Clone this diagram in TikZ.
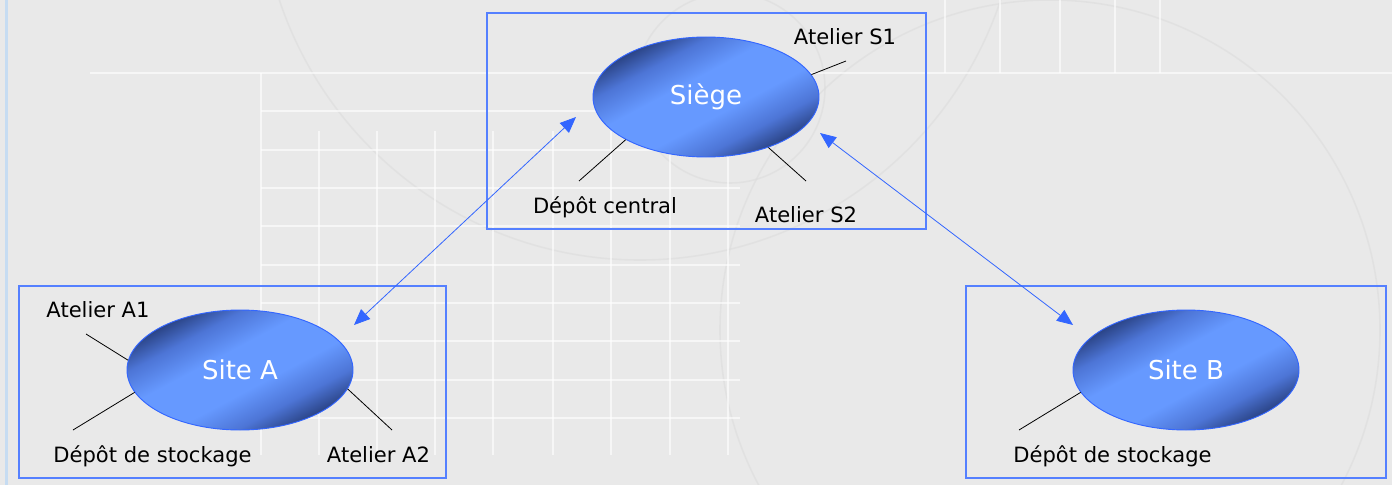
\documentclass[tikz,border=0pt]{standalone}
\usepackage{fontspec}
\setmainfont{DejaVu Sans}
\usetikzlibrary{arrows.meta,shapes.geometric}
\definecolor{bg}{HTML}{E9E9E9}
\definecolor{strip}{HTML}{C6DCF2}
\definecolor{boxblue}{HTML}{5580FF}
\definecolor{arrblue}{HTML}{3366FF}
\definecolor{elldark}{HTML}{2A4385}
\definecolor{ellmid}{HTML}{4D75D6}
\definecolor{elllight}{HTML}{6699FF}
\definecolor{ghost}{HTML}{DDDDDD}
\pgfdeclareverticalshading{ellshade}{100bp}{color(0bp)=(elldark); color(25bp)=(elldark); color(33bp)=(ellmid); color(43bp)=(elllight); color(57bp)=(elllight); color(67bp)=(ellmid); color(75bp)=(elldark); color(100bp)=(elldark)}
\tikzset{
  site/.style={ellipse, draw=arrblue, line width=0.7pt, minimum width=169.5pt, minimum height=90pt, inner sep=0pt,
    path picture={
      \begin{scope}[transform canvas={rotate around={28:(path picture bounding box.center)}}]
        \shade[shading=ellshade] ([shift={(-105pt,-56.5pt)}]path picture bounding box.center) rectangle ([shift={(105pt,56.5pt)}]path picture bounding box.center);
      \end{scope}
    },
    text=white, font=\fontsize{19.5}{23}\selectfont},
  lab/.style={font=\fontsize{15.8}{18}\selectfont, text=black, inner sep=0pt, anchor=base},
  frame/.style={draw=boxblue, line width=0.8pt},
  tick/.style={draw=black, line width=0.6pt},
  link/.style={draw=arrblue, line width=0.6pt, {Triangle[length=12pt,width=10pt]}-{Triangle[length=12pt,width=10pt]}},
  grid/.style={draw=white, line width=1.2pt, opacity=0.6},
  ring/.style={draw=ghost, line width=1.2pt, opacity=0.6}
}
\begin{document}
\begin{tikzpicture}[x=0.75pt,y=-0.75pt]
\useasboundingbox (0,0) rectangle (1392,485);
% background
\fill[bg] (0,0) rectangle (1392,485);
\fill[strip] (5,0) rectangle (8,485);
% faint decoration
\draw[ring] (730,88) circle (95);
\draw[ring] (640,-120) circle (380);
\draw[ring] (1050,330) circle (330);
\draw[grid] (90,73) -- (1392,73);
\draw[grid] (261,73) -- (261,455);
\foreach \x in {319,377,435,493,553,611,670,728} {\draw[grid] (\x,131) -- (\x,455);}
\foreach \y in {111,150,188,226,265,303,341,380,418} {\draw[grid] (261,\y) -- (740,\y);}
\foreach \x in {945,1000,1060,1115,1160} {\draw[grid] (\x,0) -- (\x,73);}
% frames
\draw[frame] (487,13) rectangle (926,229);
\draw[frame] (19,286) rectangle (446,478);
\draw[frame] (966,286) rectangle (1386,478);
% ellipses
\node[site] (siege) at (706,97) {Siège};
\node[site] (sa) at (240,370) {Site A};
\node[site] (sb) at (1186,370) {Site B};
% labels
\node[lab] (ls1) at (845,45) {Atelier S1};
\node[lab] (ldc) at (605,213) {Dépôt central};
\node[lab] (ls2) at (806,222) {Atelier S2};
\node[lab] (la1) at (98,317) {Atelier A1};
\node[lab] (lda) at (152.5,462) {Dépôt de stockage};
\node[lab] (la2) at (378.5,462) {Atelier A2};
\node[lab] (ldb) at (1112.5,462) {Dépôt de stockage};
% tick ends
\coordinate (ts1) at (846,61);
\coordinate (tdc) at (579,181);
\coordinate (ts2) at (806,181);
\coordinate (ta1) at (86,334);
\coordinate (tda) at (73,430);
\coordinate (ta2) at (392,430);
\coordinate (tdb) at (1019,430);
\draw[tick] (siege.12.8) -- (ts1);
\draw[tick] (siege.208.3) -- (tdc);
\draw[tick] (siege.321.6) -- (ts2);
\draw[tick] (sa.175) -- (ta1);
\draw[tick] (sa.192.8) -- (tda);
\draw[tick] (sa.350) -- (ta2);
\draw[tick] (sb.192.5) -- (tdb);
% links
\coordinate (pa1) at (576,117);
\coordinate (pa2) at (354,325);
\coordinate (pb1) at (820,133);
\coordinate (pb2) at (1073,325);
\draw[link] (pa1) -- (pa2);
\draw[link] (pb1) -- (pb2);
\end{tikzpicture}
\end{document}
